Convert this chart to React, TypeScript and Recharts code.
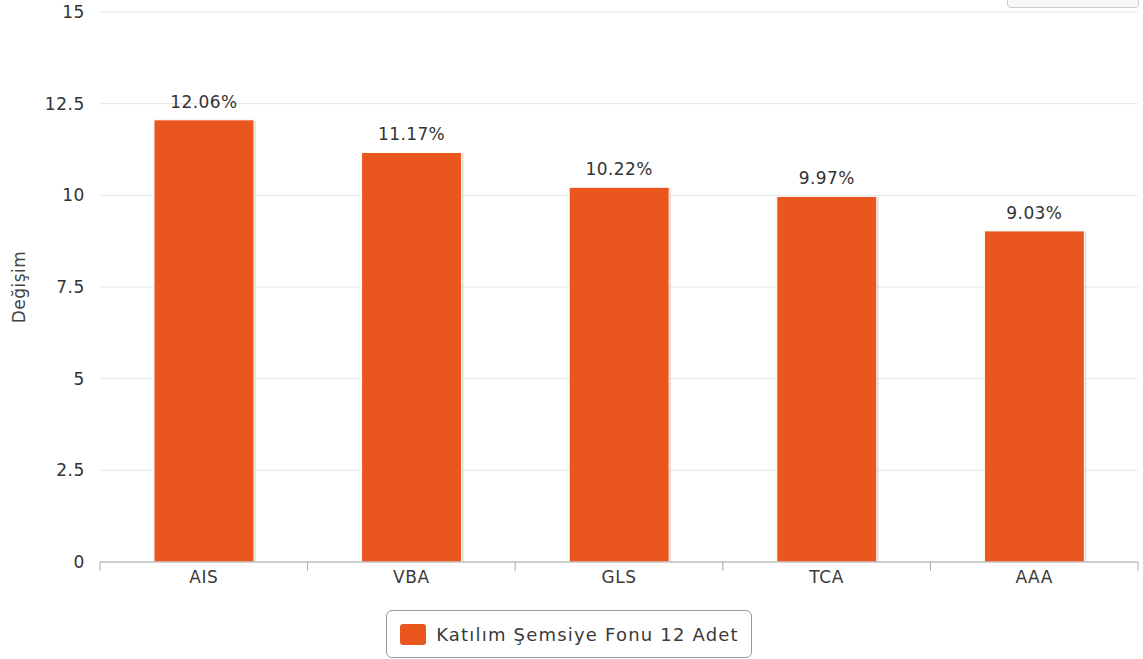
import { BarChart, Bar, XAxis, YAxis, CartesianGrid, LabelList, Legend } from 'recharts';

const funds = ['AIS', 'VBA', 'GLS', 'TCA', 'AAA'];
const changes = [12.06, 11.17, 10.22, 9.97, 9.03];
const yTicks = [0, 2.5, 5, 7.5, 10, 12.5, 15];
const seriesName = 'Katılım Şemsiye Fonu 12 Adet';

const data = funds.map((fund, i) => ({ fund, change: changes[i] }));

const FONT = '"DejaVu Sans", Verdana, sans-serif';
const ORANGE = '#EA571E';

function BarShape(props: any) {
  const { x, y, width, height } = props;
  if (!height || height <= 0) return null;
  return (
    <g>
      <rect x={x + 2} y={y + 1} width={width} height={height - 1} fill="#000" opacity={0.1} />
      <rect x={x + 1} y={y + 1} width={width} height={height - 1} fill="#000" opacity={0.1} />
      <rect x={x} y={y} width={width} height={height} fill={ORANGE} stroke="#fff" strokeWidth={1} />
    </g>
  );
}

function CategoryTick(props: any) {
  const { x, y, payload, index } = props;
  const half = payload.offset || 0;
  return (
    <g>
      <line x1={x - half} y1={y - 8} x2={x - half} y2={y + 1} stroke="#aaa" />
      {index === funds.length - 1 && (
        <line x1={x + half} y1={y - 8} x2={x + half} y2={y + 1} stroke="#aaa" />
      )}
      <text x={x} y={y + 13} textAnchor="middle" fill="#3a3a3a" fontSize={17} letterSpacing={0.6} fontFamily={FONT}>
        {payload.value}
      </text>
    </g>
  );
}

function LegendBox() {
  return (
    <div style={{ display: 'flex', justifyContent: 'center' }}>
      <div
        style={{
          display: 'flex',
          alignItems: 'center',
          boxSizing: 'border-box',
          border: '1px solid #999',
          borderRadius: 6,
          height: 48,
          padding: '0 12px 0 13px',
          fontFamily: FONT,
          fontSize: 18,
          letterSpacing: 1.2,
          color: '#3b3b3b',
          background: '#fff',
          whiteSpace: 'nowrap',
        }}
      >
        <span
          style={{
            display: 'inline-block',
            width: 26,
            height: 21,
            borderRadius: 3,
            background: ORANGE,
            marginRight: 10,
          }}
        />
        {seriesName}
      </div>
    </div>
  );
}

export default function App() {
  return (
    <div style={{ position: 'absolute', left: 0, top: 0, width: 1143, height: 659, background: '#fff', overflow: 'hidden' }}>
      <div
        style={{
          position: 'absolute',
          left: 1007,
          top: -20,
          width: 130,
          height: 26,
          border: '1px solid #ccc',
          borderRadius: 4,
          background: '#f7f7f7',
          zIndex: 2,
        }}
      />
      <BarChart
        width={1143}
        height={659}
        data={data}
        margin={{ top: 12, right: 5, bottom: 1, left: 0 }}
        barCategoryGap="26%"
      >
        <CartesianGrid vertical={false} stroke="#e6e6e6" />
        <XAxis
          dataKey="fund"
          axisLine={{ stroke: '#aaa' }}
          tickLine={false}
          tick={<CategoryTick />}
          interval={0}
          height={48}
        />
        <YAxis
          width={100}
          domain={[0, 15]}
          ticks={yTicks}
          axisLine={false}
          tickLine={false}
          tickMargin={9}
          interval={0}
          tick={{ fill: '#333', fontSize: 17, fontFamily: FONT, letterSpacing: 0.6 }}
          label={{
            value: 'Değişim',
            angle: -90,
            position: 'insideLeft',
            dx: 14,
            style: { textAnchor: 'middle', fill: '#444', fontSize: 17, letterSpacing: 0.5, fontFamily: FONT },
          }}
        />
        <Legend verticalAlign="bottom" wrapperStyle={{ bottom: 1 }} content={<LegendBox />} />
        <Bar dataKey="change" name={seriesName} fill={ORANGE} shape={<BarShape />} isAnimationActive={false}>
          <LabelList
            dataKey="change"
            position="top"
            offset={12}
            formatter={(v: any) => `${v}%`}
            style={{ fill: '#333', fontSize: 17, fontFamily: FONT, letterSpacing: 0.4 }}
          />
        </Bar>
      </BarChart>
    </div>
  );
}
